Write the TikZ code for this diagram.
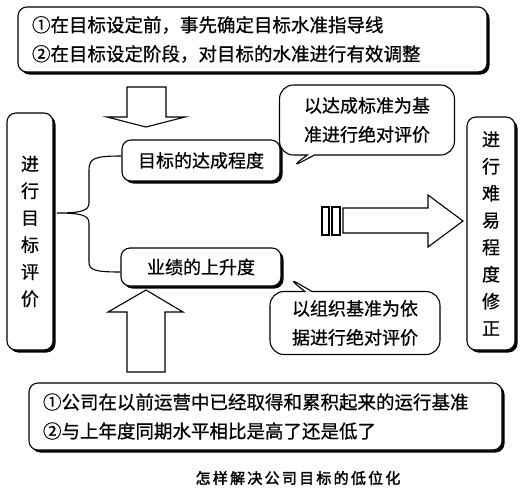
\documentclass[tikz,border=0pt]{standalone}
\usepackage{fontspec}
\setmainfont{Noto Sans CJK SC}[FakeBold=0.7]
\newfontfamily\capfont{Noto Sans CJK SC}[FakeBold=2]
\usetikzlibrary{shapes.callouts,shadows}

\begin{document}
\begin{tikzpicture}[
  x=1pt, y=-1pt,
  box/.style={
    draw,
    line width=1.1pt,
    rounded corners=9pt,
    fill=white,
    drop shadow={shadow xshift=2.5pt, shadow yshift=-2.5pt, opacity=1, fill=black},
    inner sep=0pt
  },
  textbox/.style={
    box,
    align=left,
    inner xsep=14pt,
    font=\fontsize{18.5}{29}\selectfont
  },
  vbox/.style={
    box,
    align=center,
    font=\fontsize{18}{27}\selectfont
  },
  note/.style={
    rectangle callout,
    draw,
    line width=1.1pt,
    rounded corners=14pt,
    fill=white,
    align=center,
    inner sep=0pt,
    font=\fontsize{18}{29}\selectfont
  },
  hollow/.style={draw,line width=1.1pt,fill=white}
]
  \useasboundingbox (0,0) rectangle (524,496);

  % boxes
  \node[textbox,text width=441pt,minimum height=65pt] (setting) at (252.5,39.5)
    {①在目标设定前，事先确定目标水准指导线\\②在目标设定阶段，对目标的水准进行有效调整};
  \node[textbox,text width=445pt,minimum height=67pt] (basis) at (265.5,416.5)
    {①公司在以前运营中已经取得和累积起来的运行基准\\②与上年度同期水平相比是高了还是低了};
  \node[vbox,minimum width=46pt,minimum height=237pt] (evaluate) at (30,231.5)
    {进\\行\\目\\标\\评\\价};
  \node[vbox,minimum width=48pt,minimum height=233pt] (correct) at (491,233.5)
    {进\\行\\难\\易\\程\\度\\修\\正};
  \node[box,font=\fontsize{18}{22}\selectfont,minimum width=158pt,minimum height=41pt] (reach) at (201,160.5)
    {目标的达成程度};
  \node[box,font=\fontsize{18}{22}\selectfont,minimum width=160pt,minimum height=38pt] (rise) at (201,267)
    {业绩的上升度};

  % callouts
  \node[note,minimum width=175pt,minimum height=70pt,
    callout absolute pointer={(290,168)}] (absolute) at (367,120)
    {以达成标准为基\\准进行绝对评价};
  \node[note,minimum width=170pt,minimum height=63pt,
    callout absolute pointer={(287,277)}] (orgbase) at (355,323)
    {以组织基准为依\\据进行绝对评价};

  % brace
  \coordinate (mid) at (57,213);
  \draw[line width=1.1pt] (reach.west |- 0,156) .. controls (95,156) and (89,158) .. (89,170)
    -- (89,203) .. controls (89,211) and (80,213) .. (mid)
    .. controls (80,213) and (89,215) .. (89,223)
    -- (89,262) .. controls (89,270) and (95,272) .. (rise.west |- 0,272);

  % hollow arrows
  \draw[hollow] (127,87) -- (166,87) -- (166,117) -- (185,117) -- (146,127)
    -- (107,117) -- (127,117) -- cycle;
  \draw[hollow] (127,372) -- (127,312) -- (108,312) -- (146,290) -- (183,312)
    -- (165,312) -- (165,372) -- cycle;
  \draw[hollow] (343,208) -- (428,208) -- (428,195) -- (463,221) -- (428,247)
    -- (428,233) -- (343,233) -- cycle;
  \draw[hollow] (322,207) rectangle (329,235);
  \draw[hollow] (332,207) rectangle (340,235);

  \node[font=\fontsize{15}{18}\selectfont\capfont] (caption) at (298,478)
    {\addfontfeature{LetterSpace=15}怎样解决公司目标的低位化};
\end{tikzpicture}
\end{document}
